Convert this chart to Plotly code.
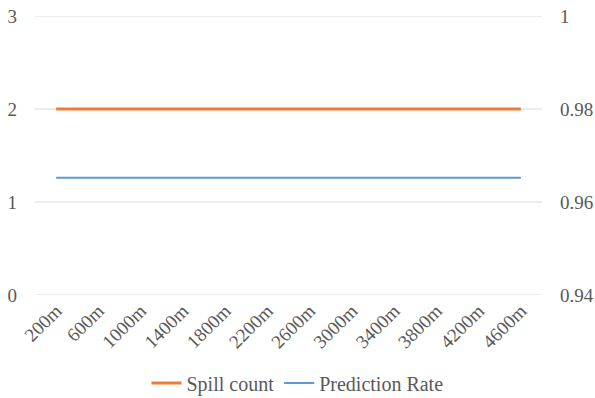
import plotly.graph_objects as go

categories = ["200m", "600m", "1000m", "1400m", "1800m", "2200m", "2600m",
              "3000m", "3400m", "3800m", "4200m", "4600m"]
spill_count = [2, 2, 2, 2, 2, 2, 2, 2, 2, 2, 2, 2]
prediction_rate = [0.9652] * 12
left_ticks = [0, 1, 2, 3]
right_ticks = [0.94, 0.96, 0.98, 1.0]

font_family = "Liberation Serif"
txt = "#595959"

fig = go.Figure()

for v in left_ticks:
    fig.add_shape(type="line", xref="paper", x0=0, x1=1, yref="y", y0=v, y1=v,
                  line=dict(color="#D9D9D9", width=1), layer="below")

fig.add_trace(go.Scatter(x=categories, y=spill_count, name="Spill count",
                         mode="lines", line=dict(color="#ED7D31", width=3),
                         yaxis="y"))
fig.add_trace(go.Scatter(x=categories, y=prediction_rate, name="Prediction Rate",
                         mode="lines", line=dict(color="#5B9BD5", width=2),
                         yaxis="y2"))

fig.update_layout(
    width=595, height=398,
    margin=dict(l=35, r=53, t=16, b=103, autoexpand=False),
    paper_bgcolor="white", plot_bgcolor="white",
    font=dict(family=font_family, size=19, color=txt),
    showlegend=True,
    legend=dict(orientation="h", x=0.5, xanchor="center", xref="container",
                y=0.038, yanchor="middle", yref="container",
                font=dict(family=font_family, size=20, color=txt), itemwidth=30),
    xaxis=dict(type="category", range=[-0.5, len(categories) - 0.5], tickangle=-45,
               showgrid=False, zeroline=False, showline=False, ticks="",
               tickfont=dict(family=font_family, size=19, color=txt), automargin=False),
    yaxis=dict(range=[0, 3], tickvals=left_ticks, showgrid=False,
               zeroline=False, showline=False, ticks="",
               tickfont=dict(family=font_family, size=19, color=txt),
               ticklabelstandoff=17, automargin=False),
    yaxis2=dict(range=[0.94, 1], tickvals=right_ticks, ticktext=["0.94", "0.96", "0.98", "1"],
                overlaying="y", side="right",
                showgrid=False, zeroline=False, showline=False, ticks="",
                tickfont=dict(family=font_family, size=19, color=txt),
                ticklabelstandoff=17, automargin=False),
)

fig.write_html("out.html")
